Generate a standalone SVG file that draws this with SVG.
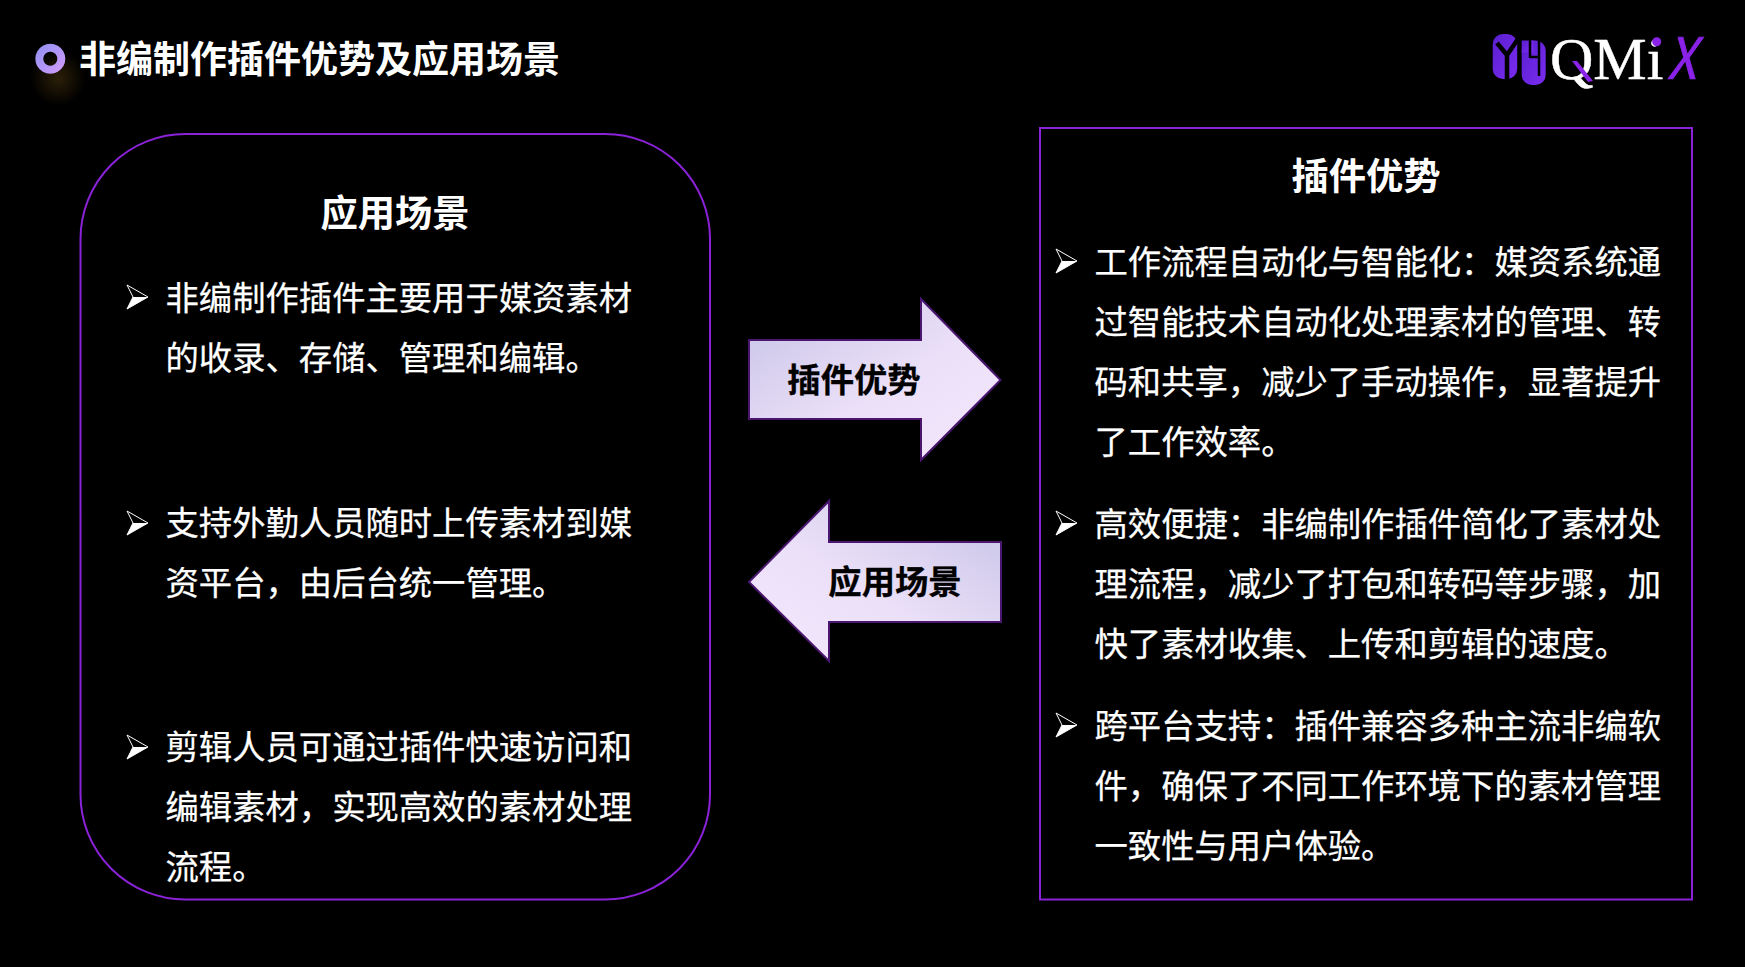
<svg xmlns="http://www.w3.org/2000/svg" width="1745" height="967" viewBox="0 0 1745 967">
<style>
text{font-family:"Noto Sans CJK SC","Noto Sans",sans-serif}
.t{fill:#fff;font-size:33.33px;stroke:#fff;stroke-width:.25}
.h{fill:#fff;font-size:37.300px;font-weight:700;text-anchor:middle}
.a{fill:#000;font-size:33.33px;font-weight:700;text-anchor:middle;stroke:#000;stroke-width:.3}
.box{fill:none;stroke:#8a22d8;stroke-width:2}
.arr{stroke:#4a1670;stroke-width:2}
.p{fill:#8a22e8}
.cut{fill:none;stroke:#000;stroke-width:3.500}
.lg{font-family:"Liberation Serif",serif;fill:#fff;font-size:60px;stroke:#fff;stroke-width:.5}
</style>
<defs>
<linearGradient id="gr" x1="0" y1="0" x2="1" y2="1"><stop offset="0" stop-color="#c6c2e6"/><stop offset=".55" stop-color="#ebe0f8"/><stop offset="1" stop-color="#f3e8fc"/></linearGradient>
<linearGradient id="gl" x1="1" y1="0" x2="0" y2="1"><stop offset="0" stop-color="#c6c2e6"/><stop offset=".55" stop-color="#ebe0f8"/><stop offset="1" stop-color="#f3e8fc"/></linearGradient>
<linearGradient id="ring" x1="0" y1="0" x2="1" y2="1"><stop offset="0" stop-color="#8c90f2"/><stop offset="1" stop-color="#d69cfc"/></linearGradient>
<linearGradient id="lgo" x1="0" y1="0" x2="1" y2="1"><stop offset="0" stop-color="#5a1fd0"/><stop offset="1" stop-color="#7a2cf0"/></linearGradient>
<radialGradient id="glow"><stop offset="0" stop-color="#2c1f08"/><stop offset="1" stop-color="#000"/></radialGradient>
<g id="b"><path d="M0 0L21 12L0 24L6 12Z" fill="none" stroke="#fff" stroke-width="1"/><path d="M6 12L21 12L0 24Z" fill="#fff"/></g>
</defs>
<rect width="1745" height="967" fill="#000"/>
<g id="header">
<circle cx="58" cy="78" r="28" fill="url(#glow)"/>
<path fill-rule="evenodd" fill="url(#ring)" d="M50.300 43.700a15 15 0 1 0 .01 0ZM50.300 51.700a7 7 0 1 1-.01 0Z"/>
<text x="79" y="73" fill="#fff" font-size="37" font-weight="700">非编制作插件优势及应用场景</text>
</g>
<g id="logo">
<rect x="1492.700" y="34" width="24.500" height="45" rx="10" fill="url(#lgo)"/>
<path class="cut" style="stroke-width:4.500" d="M1497 43L1507 55L1518 39M1507 55V80"/>
<rect x="1521.700" y="40.500" width="24" height="44.500" rx="10" fill="url(#lgo)"/>
<rect x="1521.700" y="40.500" width="12" height="12" fill="url(#lgo)"/>
<path class="cut" style="stroke-width:2.500" d="M1530 40V58M1539 40V76M1530 57H1539"/>
<text class="lg" x="1550" y="79">QMi</text>
<path class="p" d="M1572 61l5 0 16 20-5 1Z"/>
<circle class="p" cx="1656.700" cy="41.700" r="4.500"/>
<text transform="translate(1667 79) scale(.82 .92)" font-family="Liberation Serif" font-style="italic" font-size="62" fill="#8a22e8" stroke="#8a22e8" stroke-width=".8">X</text>
</g>
<g id="scene-box">
<rect class="box" x="80.500" y="134" width="629.500" height="765.500" rx="105"/>
<text class="h" x="395" y="227">应用场景</text>
<use href="#b" x="127" y="285"/>
<text class="t" x="165.500" y="309.500">非编制作插件主要用于媒资素材</text>
<text class="t" x="165.500" y="369.500">的收录、存储、管理和编辑。</text>
<use href="#b" x="127" y="511"/>
<text class="t" x="165.500" y="535">支持外勤人员随时上传素材到媒</text>
<text class="t" x="165.500" y="595">资平台，由后台统一管理。</text>
<use href="#b" x="127" y="735"/>
<text class="t" x="165.500" y="759">剪辑人员可通过插件快速访问和</text>
<text class="t" x="165.500" y="819">编辑素材，实现高效的素材处理</text>
<text class="t" x="165.500" y="879">流程。</text>
</g>
<g id="advantage-box">
<rect class="box" x="1040" y="128" width="652" height="771.500"/>
<text class="h" x="1366" y="190">插件优势</text>
<use href="#b" x="1056" y="249"/>
<text class="t" x="1094.500" y="274">工作流程自动化与智能化：媒资系统通</text>
<text class="t" x="1094.500" y="334">过智能技术自动化处理素材的管理、转</text>
<text class="t" x="1094.500" y="394">码和共享，减少了手动操作，显著提升</text>
<text class="t" x="1094.500" y="454">了工作效率。</text>
<use href="#b" x="1056" y="511"/>
<text class="t" x="1094.500" y="536">高效便捷：非编制作插件简化了素材处</text>
<text class="t" x="1094.500" y="596">理流程，减少了打包和转码等步骤，加</text>
<text class="t" x="1094.500" y="656">快了素材收集、上传和剪辑的速度。</text>
<use href="#b" x="1056" y="713"/>
<text class="t" x="1094.500" y="738">跨平台支持：插件兼容多种主流非编软</text>
<text class="t" x="1094.500" y="798">件，确保了不同工作环境下的素材管理</text>
<text class="t" x="1094.500" y="858">一致性与用户体验。</text>
</g>
<g id="connectors">
<g id="arrow-right">
<path class="arr" fill="url(#gr)" d="M749 340H921V299L1000.500 380L921 460V419H749Z"/>
<text class="a" x="854" y="392">插件优势</text>
</g>
<g id="arrow-left">
<path class="arr" fill="url(#gl)" d="M1001 542H829V501L749 582L829 661V622H1001Z"/>
<text class="a" x="895" y="594">应用场景</text>
</g>
</g>
</svg>
